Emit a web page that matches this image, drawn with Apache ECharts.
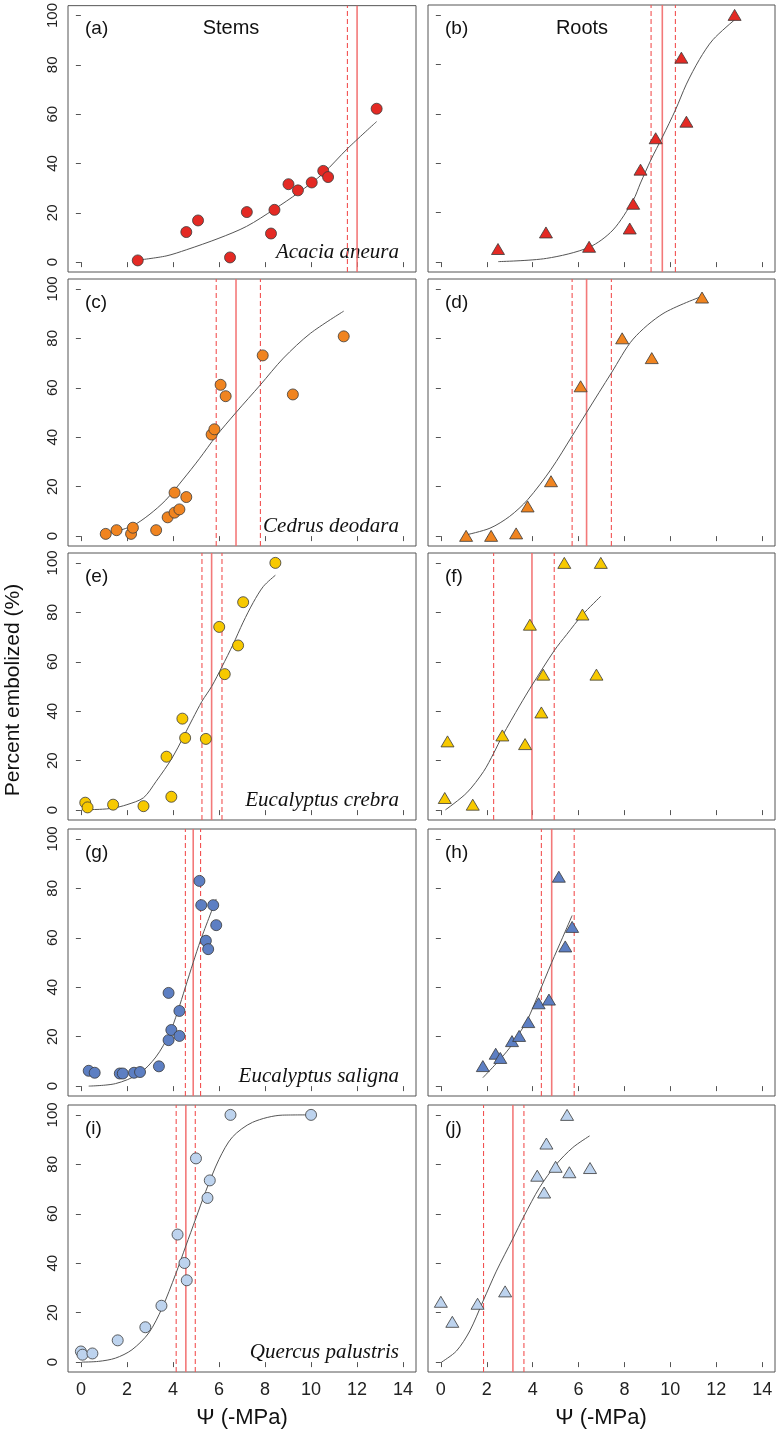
<!DOCTYPE html>
<html>
<head>
<meta charset="utf-8">
<script src="https://cdn.jsdelivr.net/npm/echarts@6/dist/echarts.min.js"></script>
<style>
html,body{margin:0;padding:0;background:#fff;}
#chart{width:778px;height:1430px;}
</style>
</head>
<body>
<div id="chart"></div>
<script>
// ---------- DATA ----------
const X_TICKS = [0, 2, 4, 6, 8, 10, 12, 14];
const Y_TICKS = [0, 20, 40, 60, 80, 100];
const ORGANS = ['Stems', 'Roots'];
const SPECIES = ['Acacia aneura', 'Cedrus deodara', 'Eucalyptus crebra', 'Eucalyptus saligna', 'Quercus palustris'];
const PANEL_LETTERS = ['(a)', '(b)', '(c)', '(d)', '(e)', '(f)', '(g)', '(h)', '(i)', '(j)'];

// (a) Acacia aneura stems
const aPtsX = [2.47, 4.58, 5.09, 6.48, 7.21, 8.26, 8.41, 9.02, 9.43, 10.03, 10.53, 10.74, 12.85];
const aPtsY = [0.7, 12.2, 16.9, 1.9, 20.3, 11.6, 21.2, 31.6, 29.1, 32.3, 37.0, 34.5, 62.2];
const aFitX = [2.47, 3.7, 4.58, 6.0, 7.2, 8.41, 9.43, 10.53, 11.58, 12.85];
const aFitY = [0.8, 2.5, 5.0, 9.7, 14.5, 21.5, 28, 36, 46, 57];
const aRef = [11.58, 12.0, null];
// (b) Acacia aneura roots
const bPtsX = [2.49, 4.58, 6.46, 8.23, 8.38, 8.70, 9.36, 10.48, 10.70, 12.80];
const bPtsY = [5.3, 12.0, 6.2, 13.6, 23.6, 37.4, 50.1, 82.7, 56.8, 100];
const bFitX = [2.5, 4.6, 6.46, 7.5, 8.38, 8.70, 9.16, 9.65, 10.22, 10.7, 11.27, 11.86, 12.8];
const bFitY = [0.2, 1.5, 6, 13, 25, 32, 41.5, 50.5, 61.5, 72, 82, 90, 98];
const bRef = [9.16, 9.65, 10.22];
// (c) Cedrus deodara stems
const cPtsX = [1.08, 1.55, 2.18, 2.26, 3.27, 3.77, 4.07, 4.07, 4.28, 4.58, 5.68, 5.80, 6.07, 6.29, 7.90, 9.21, 11.42];
const cPtsY = [0.9, 2.4, 0.9, 3.4, 2.4, 7.6, 17.6, 9.5, 10.8, 15.8, 41.1, 43.2, 61.2, 56.6, 73.1, 57.3, 80.8];
const cFitX = [1.21, 2.23, 2.96, 3.69, 4.42, 5.15, 5.88, 6.74, 7.8, 8.8, 9.97, 11.42];
const cFitY = [1.1, 4.1, 8.6, 14.6, 22.7, 31.3, 40.5, 50, 61.2, 72, 82, 91];
const cRef = [5.88, 6.74, 7.80];
// (d) Cedrus deodara roots
const dPtsX = [1.10, 2.19, 3.28, 3.78, 4.80, 6.09, 7.90, 9.19, 11.38];
const dPtsY = [0.1, 0.1, 1.1, 12.0, 22.2, 60.6, 80, 72.0, 96.5];
const dFitX = [1.1, 2.14, 3.0, 3.78, 4.8, 5.72, 6.35, 7.43, 8.38, 9.68, 11.38];
const dFitY = [0.5, 3.2, 8, 14.7, 27, 40.5, 50, 66, 79.7, 90, 97];
const dRef = [5.72, 6.35, 7.43];
// (e) Eucalyptus crebra stems
const ePtsX = [0.19, 0.29, 1.40, 2.72, 3.72, 3.93, 4.41, 4.53, 5.43, 6.01, 6.25, 6.83, 7.05, 8.45];
const ePtsY = [3.0, 1.1, 2.2, 1.6, 21.6, 5.4, 37.0, 29.2, 28.8, 74.1, 55.0, 66.6, 84.1, 100];
const eFitX = [0.04, 0.8, 1.4, 2.0, 2.72, 3.26, 3.99, 4.86, 5.26, 5.68, 6.13, 6.61, 7.05, 7.49, 7.93, 8.45];
const eFitY = [0.2, 0.3, 0.8, 2.2, 5, 11.5, 21.5, 37, 44, 50, 58, 67, 76, 84, 90.5, 95];
const eRef = [5.26, 5.68, 6.13];
// (f) Eucalyptus crebra roots
const fPtsX = [0.17, 0.29, 1.39, 2.68, 3.67, 3.88, 4.38, 4.46, 5.38, 6.17, 6.78, 6.97];
const fPtsY = [4.9, 27.8, 2.2, 30.2, 26.7, 75.0, 39.5, 54.8, 100, 79.1, 54.8, 100];
const fFitX = [0.2, 1.13, 1.86, 2.3, 2.68, 3.45, 3.97, 4.94, 5.48, 6.17, 6.97];
const fFitY = [0.1, 7, 15.6, 23, 30, 42.5, 50.5, 64.5, 71, 79, 86.5];
const fRef = [2.30, 3.97, 4.94];
// (g) Eucalyptus saligna stems
const gPtsX = [0.34, 0.60, 1.69, 1.82, 2.31, 2.57, 3.39, 3.81, 3.81, 3.93, 4.28, 4.28, 5.15, 5.23, 5.43, 5.53, 5.75, 5.88];
const gPtsY = [6.2, 5.4, 5.1, 5.1, 5.4, 5.7, 8.0, 37.7, 18.6, 22.7, 30.4, 20.3, 83.0, 73.2, 58.8, 55.4, 73.2, 65.1];
const gFitX = [0.34, 1.5, 2.53, 3.26, 3.84, 4.2, 4.54, 4.88, 5.20, 5.88];
const gFitY = [0, 1, 5, 11.8, 21, 30, 40, 50, 59, 75.7];
const gRef = [4.54, 4.88, 5.20];
// (h) Eucalyptus saligna roots
const hPtsX = [1.83, 2.39, 2.59, 3.10, 3.41, 3.81, 4.26, 4.71, 5.14, 5.42, 5.72];
const hPtsY = [8.1, 13.1, 11.4, 18.2, 20.3, 25.9, 33.5, 35.0, 84.7, 56.5, 64.4];
const hFitX = [1.83, 2.4, 3.0, 3.6, 3.81, 4.2, 4.83, 5.3, 5.72];
const hFitY = [3.4, 9, 15.5, 24, 27.5, 36, 50, 60, 69];
const hRef = [4.38, 4.83, 5.81];
// (i) Quercus palustris stems
const iPtsX = [0, 0.07, 0.5, 1.6, 2.8, 3.5, 4.2, 4.5, 4.6, 5.0, 5.5, 5.6, 6.5, 10.0];
const iPtsY = [4.3, 3.0, 3.5, 8.8, 14.1, 22.8, 51.6, 40.1, 33.1, 82.4, 66.4, 73.5, 100, 100];
const iFitX = [0.04, 0.77, 1.5, 2.22, 2.95, 3.53, 4.11, 4.56, 4.99, 5.42, 6.0, 6.58, 7.46, 8.76, 10.0];
const iFitY = [0, 0.3, 1.6, 5, 11.8, 21.9, 35.4, 47, 58, 69, 82, 91, 97, 99.9, 100];
const iRef = [4.14, 4.56, 4.97];
// (j) Quercus palustris roots
const jPtsX = [0, 0.5, 1.6, 2.8, 4.2, 4.5, 4.6, 5.0, 5.5, 5.6, 6.5];
const jPtsY = [24.4, 16.3, 23.6, 28.6, 75.4, 68.6, 88.4, 79.0, 100, 76.8, 78.5];
const jFitX = [0.03, 0.68, 1.26, 1.84, 2.42, 3.14, 3.62, 4.3, 5.03, 5.75, 6.48];
const jFitY = [0, 4.5, 12.6, 24.7, 36.8, 50, 59, 70.6, 80, 86.8, 91.5];
const jRef = [1.86, 3.14, 3.62];

// ---------- STYLE / LAYOUT ----------
const ROW_COLORS = ['#e42a24', '#f08420', '#f7c900', '#5d7fc3', '#bdd3ee'];
const ROW_TOPS = [5, 279, 553, 829, 1105];
const PANEL_H = 267;
const COL_LEFT = [68, 428];
const COL_W = [348, 347];
const Y_MIN = -4, Y_MAX = 104;
const SANS = "'Liberation Sans', Arial, sans-serif";
const SERIF = "'Liberation Serif', 'Times New Roman', serif";

const panels = [
  [aPtsX, aPtsY, aFitX, aFitY, aRef],
  [bPtsX, bPtsY, bFitX, bFitY, bRef],
  [cPtsX, cPtsY, cFitX, cFitY, cRef],
  [dPtsX, dPtsY, dFitX, dFitY, dRef],
  [ePtsX, ePtsY, eFitX, eFitY, eRef],
  [fPtsX, fPtsY, fFitX, fFitY, fRef],
  [gPtsX, gPtsY, gFitX, gFitY, gRef],
  [hPtsX, hPtsY, hFitX, hFitY, hRef],
  [iPtsX, iPtsY, iFitX, iFitY, iRef],
  [jPtsX, jPtsY, jFitX, jFitY, jRef]
];

const zip = (xs, ys) => xs.map((x, k) => [x, ys[k]]);

const grids = [], xAxes = [], yAxes = [], series = [], graphics = [];

function refSeries(idx, x, dashed) {
  return {
    type: 'line', xAxisIndex: idx, yAxisIndex: idx, silent: true, z: 1,
    data: [[x, Y_MIN], [x, Y_MAX]], showSymbol: false, symbol: 'none',
    color: '#f25555',
    lineStyle: dashed
      ? { type: [5, 3], color: '#f25252', width: 1.1, opacity: 1 }
      : { type: 'solid', color: '#f26a6a', width: 1.6, opacity: 0.9 }
  };
}

panels.forEach((p, idx) => {
  const row = Math.floor(idx / 2), col = idx % 2;
  const [px, py, fx, fy, ref] = p;
  grids.push({
    left: COL_LEFT[col], top: ROW_TOPS[row], width: COL_W[col], height: PANEL_H,
    show: true, backgroundColor: 'transparent', borderColor: '#555', borderWidth: 1
  });
  xAxes.push({
    type: 'value', gridIndex: idx, min: -0.56, max: 14.56,
    axisLine: { show: false }, splitLine: { show: false },
    axisTick: { show: true, length: 5, lineStyle: { color: '#555' }, customValues: X_TICKS },
    axisLabel: { show: row === 4, customValues: X_TICKS, fontSize: 18, color: '#222', fontFamily: SANS, margin: 9 }
  });
  yAxes.push({
    type: 'value', gridIndex: idx, min: Y_MIN, max: Y_MAX,
    axisLine: { show: false }, splitLine: { show: false },
    axisTick: { show: true, length: 5, lineStyle: { color: '#555' }, customValues: Y_TICKS },
    axisLabel: { show: col === 0, customValues: Y_TICKS, rotate: 90, fontSize: 15, color: '#222', fontFamily: SANS, margin: 8 }
  });
  if (ref[0] != null) series.push(refSeries(idx, ref[0], true));
  if (ref[1] != null) series.push(refSeries(idx, ref[1], false));
  if (ref[2] != null) series.push(refSeries(idx, ref[2], true));
  series.push({
    type: 'line', xAxisIndex: idx, yAxisIndex: idx, data: zip(fx, fy),
    smooth: 0.3, showSymbol: false, symbol: 'none', color: '#555',
    lineStyle: { color: '#555', width: 1 }, z: 2, silent: true
  });
  series.push({
    type: 'scatter', xAxisIndex: idx, yAxisIndex: idx, data: zip(px, py),
    symbol: col === 0 ? 'circle' : 'triangle',
    symbolSize: col === 0 ? 11 : [13, 11],
    itemStyle: { color: ROW_COLORS[row], borderColor: '#3a3a3a', borderWidth: 0.8, opacity: 1 },
    z: 3
  });
  graphics.push({
    type: 'text', left: COL_LEFT[col] + 17, top: ROW_TOPS[row] + 14,
    style: { text: PANEL_LETTERS[idx], fontSize: 19, fontFamily: SANS, fill: '#111' }
  });
});

graphics.push({ type: 'text', x: 231, y: 28, style: { text: ORGANS[0], fontSize: 20, fontFamily: SANS, fill: '#111', align: 'center', verticalAlign: 'middle' } });
graphics.push({ type: 'text', x: 582, y: 28, style: { text: ORGANS[1], fontSize: 20, fontFamily: SANS, fill: '#111', align: 'center', verticalAlign: 'middle' } });
SPECIES.forEach((s, r) => {
  graphics.push({ type: 'text', x: 399, y: ROW_TOPS[r] + 247,
    style: { text: s, fontSize: 21, fontStyle: 'italic', fontFamily: SERIF, fill: '#111', align: 'right', verticalAlign: 'middle' } });
});
graphics.push({ type: 'text', x: 13, y: 690, rotation: Math.PI / 2,
  style: { text: 'Percent embolized (%)', fontSize: 21, fontFamily: SANS, fill: '#111', align: 'center', verticalAlign: 'middle' } });
graphics.push({ type: 'text', x: 242, y: 1418, style: { text: 'Ψ (-MPa)', fontSize: 22, fontFamily: SANS, fill: '#111', align: 'center', verticalAlign: 'middle' } });
graphics.push({ type: 'text', x: 601, y: 1418, style: { text: 'Ψ (-MPa)', fontSize: 22, fontFamily: SANS, fill: '#111', align: 'center', verticalAlign: 'middle' } });

const chart = echarts.init(document.getElementById('chart'), null, { renderer: 'canvas' });
chart.setOption({
  animation: false,
  backgroundColor: '#fff',
  grid: grids, xAxis: xAxes, yAxis: yAxes, series: series,
  graphic: graphics
});
</script>
</body>
</html>
